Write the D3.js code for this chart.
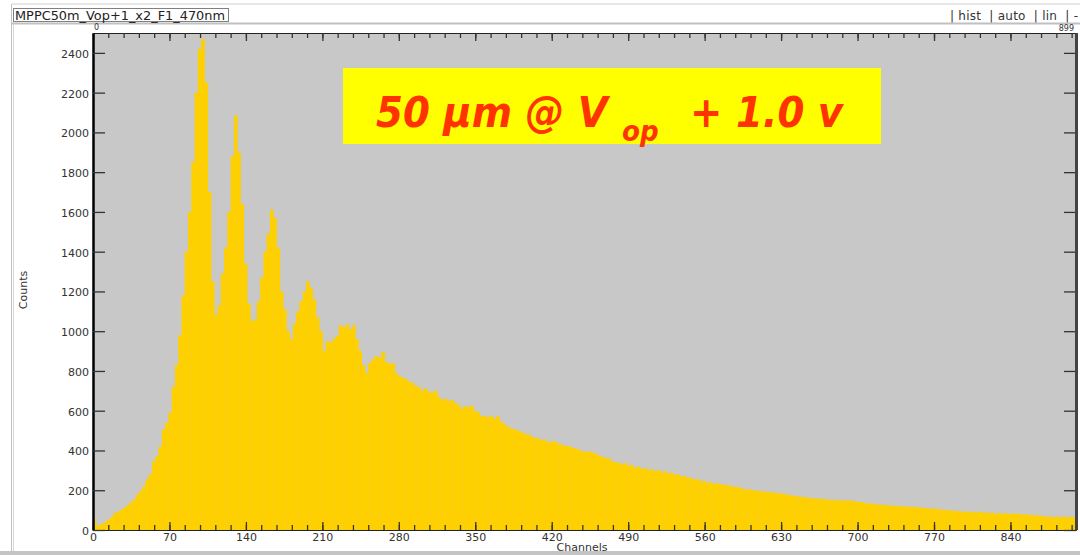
<!DOCTYPE html>
<html>
<head>
<meta charset="utf-8">
<script src="https://cdn.jsdelivr.net/npm/d3@7"></script>
<style>
  body { margin:0; background:#fff; }
  svg { display:block; }
  .axis text { font-family:"DejaVu Sans", sans-serif; font-size:11px; fill:#333; }
</style>
</head>
<body>
<div id="histogram"></div>
<script>
// histogram title + spectrum (3-channel bins, channels 0..899)
let title = "MPPC50m_Vop+1_x2_F1_470nm";
let binWidth = 3;
let counts = [
  45, 20, 28, 36, 50, 62, 82, 90, 100, 112,
  122, 140, 150, 178, 195, 220, 255, 282, 345, 372,
  420, 505, 540, 590, 720, 830, 980, 1180, 1400, 1600,
  1850, 2200, 2420, 2470, 2250, 1700, 1250, 1080, 1130, 1290,
  1420, 1600, 1880, 2085, 1900, 1640, 1340, 1140, 1050, 1060,
  1150, 1270, 1400, 1490, 1610, 1570, 1420, 1200, 1110, 1000,
  960, 1040, 1100, 1150, 1200, 1250, 1220, 1160, 1070, 1000,
  900, 950, 945, 960, 975, 1030, 1020, 1035, 1010, 1030,
  960, 900, 830, 790, 840, 860, 875, 865, 895, 845,
  835, 840, 790, 775, 765, 760, 745, 740, 725, 718,
  700, 712, 695, 690, 700, 670, 655, 660, 648, 655,
  640, 628, 610, 622, 618, 625, 600, 592, 575, 572,
  568, 575, 560, 572, 545, 535, 520, 512, 508, 500,
  495, 486, 480, 476, 462, 465, 452, 455, 446, 442,
  446, 440, 430, 428, 420, 422, 412, 410, 400, 396,
  392, 395, 388, 384, 372, 368, 362, 360, 345, 340,
  338, 330, 336, 322, 326, 314, 318, 308, 312, 300,
  306, 296, 302, 290, 296, 284, 288, 278, 280, 270,
  272, 262, 264, 252, 256, 244, 248, 236, 240, 232,
  235, 228, 230, 222, 224, 216, 218, 210, 208, 202,
  204, 198, 200, 194, 196, 190, 192, 186, 188, 182,
  184, 178, 176, 172, 172, 166, 168, 162, 164, 158,
  160, 156, 158, 152, 154, 149, 152, 147, 151, 146,
  150, 145, 146, 140, 141, 135, 136, 131, 132, 128,
  128, 124, 126, 121, 123, 119, 122, 117, 119, 115,
  117, 113, 115, 110, 111, 106, 109, 104, 105, 100,
  101, 97, 99, 94, 95, 90, 93, 89, 92, 88,
  92, 87, 89, 84, 87, 82, 85, 81, 85, 80,
  84, 80, 82, 77, 79, 75, 77, 72, 74, 70,
  70, 66, 68, 64, 67, 63, 68, 63, 66, 62
];
let xMajorTicks = [0, 70, 140, 210, 280, 350, 420, 490, 560, 630, 700, 770, 840];
let yTicks = [0, 200, 400, 600, 800, 1000, 1200, 1400, 1600, 1800, 2000, 2200, 2400];
let menuText = "| hist  | auto  | lin  | -";
let xLabel = "Channels";
let yLabel = "Counts";

let screen_h = {width:1080, height:555};
let plot = {left:93, right:1076, top:33, bottom:530};

let svg = d3.select("#histogram")
    .append("svg")
    .attr("width", screen_h.width)
    .attr("height", screen_h.height);

// window frame bits
svg.append("line").attr("x1",12).attr("x2",1080).attr("y1",4).attr("y2",4).attr("stroke","#d0d0d0");
svg.append("line").attr("x1",12).attr("x2",1080).attr("y1",23.5).attr("y2",23.5).attr("stroke","#c0c0c0").attr("stroke-width",2);
svg.append("line").attr("x1",11.5).attr("x2",11.5).attr("y1",4).attr("y2",552).attr("stroke","#c0c0c0");
svg.append("line").attr("x1",13.5).attr("x2",13.5).attr("y1",24).attr("y2",552).attr("stroke","#d8d8d8");
svg.append("rect").attr("x",0).attr("y",551).attr("width",1080).attr("height",4).attr("fill","#c4c4c4");

svg.append("rect").attr("x",13.5).attr("y",8.5).attr("width",215).attr("height",13)
    .attr("fill","#fff").attr("stroke","#808080");
svg.append("text").attr("x",15).attr("y",19.5)
    .attr("font-family","DejaVu Sans").attr("font-size",11.5).attr("fill","#222")
    .attr("textLength",210).attr("lengthAdjust","spacingAndGlyphs")
    .text(title);
svg.append("text").attr("x",950).attr("y",19.5)
    .attr("font-family","DejaVu Sans").attr("font-size",12).attr("fill","#333")
    .attr("xml:space","preserve")
    .attr("textLength",128).attr("lengthAdjust","spacing")
    .text(menuText);

let xScale = d3.scaleLinear().domain([0, 900]).range([plot.left, plot.right]);
let yScale = d3.scaleLinear().domain([0, 2500]).range([plot.bottom, plot.top]);

svg.append("rect")
    .attr("x", plot.left).attr("y", plot.top)
    .attr("width", plot.right-plot.left).attr("height", plot.bottom-plot.top)
    .attr("fill", "#c8c8c8");

svg.append("g").selectAll("rect")
    .data(counts)
    .enter()
    .append("rect")
    .attr("x", function(d,i){ return xScale(i*binWidth); })
    .attr("y", function(d){ return yScale(d); })
    .attr("width", function(d,i){ return xScale((i+1)*binWidth)-xScale(i*binWidth)+0.4; })
    .attr("height", function(d){ return plot.bottom-yScale(d); })
    .attr("fill", "#ffd000");

let minorTicks = d3.range(0, 900, 14);

// bottom axis
let xAxis = svg.append("g").attr("class","axis")
    .attr("transform","translate(0,"+plot.bottom+")")
    .call(d3.axisBottom(xScale).tickValues(xMajorTicks).tickFormat(d3.format("d"))
        .tickSizeInner(-8).tickSizeOuter(0).tickPadding(4));
svg.append("g").attr("class","axis")
    .attr("transform","translate(0,"+plot.bottom+")")
    .call(d3.axisBottom(xScale).tickValues(minorTicks).tickSizeInner(-5).tickSizeOuter(0).tickFormat(""));
// top axis
svg.append("g").attr("class","axis")
    .attr("transform","translate(0,"+plot.top+")")
    .call(d3.axisTop(xScale).tickValues(xMajorTicks).tickSizeInner(-8).tickSizeOuter(0).tickFormat(""));
svg.append("g").attr("class","axis")
    .attr("transform","translate(0,"+plot.top+")")
    .call(d3.axisTop(xScale).tickValues(minorTicks).tickSizeInner(-5).tickSizeOuter(0).tickFormat(""));
// left + right axes
let yAxis = svg.append("g").attr("class","axis")
    .attr("transform","translate("+plot.left+",0)")
    .call(d3.axisLeft(yScale).tickValues(yTicks).tickFormat(d3.format("d"))
        .tickSizeInner(-12).tickSizeOuter(0).tickPadding(4));
svg.append("g").attr("class","axis")
    .attr("transform","translate("+plot.right+",0)")
    .call(d3.axisRight(yScale).tickValues(yTicks).tickSizeInner(-12).tickSizeOuter(0).tickFormat(""));

svg.selectAll(".axis .tick line").attr("stroke","#333").attr("stroke-width",1.3);
svg.selectAll(".axis .domain").attr("stroke","#222");
yAxis.select(".domain").attr("stroke-width",2.5).attr("stroke","#000");
xAxis.selectAll(".tick text").attr("dy","0.6em");
yAxis.selectAll(".tick text").attr("dy","0.4em");
svg.append("line").attr("x1",plot.right+0.5).attr("x2",plot.right+0.5)
    .attr("y1",plot.top).attr("y2",plot.bottom).attr("stroke","#444").attr("stroke-width",3);

svg.append("text").attr("x",plot.left+1).attr("y",30)
    .attr("font-family","DejaVu Sans").attr("font-size",8).attr("fill","#333").text("0");
svg.append("text").attr("x",plot.right-2).attr("y",31).attr("text-anchor","end")
    .attr("font-family","DejaVu Sans").attr("font-size",8).attr("fill","#333").text("899");

svg.append("text").attr("x",582).attr("y",551).attr("text-anchor","middle")
    .attr("font-family","DejaVu Sans").attr("font-size",11).attr("fill","#333").text(xLabel);
svg.append("text").attr("transform","translate(27,290) rotate(-90)").attr("text-anchor","middle")
    .attr("font-family","DejaVu Sans").attr("font-size",11).attr("fill","#333").text(yLabel);

// annotation box, one text with tspans for the subscript
svg.append("rect").attr("x",343).attr("y",68).attr("width",538).attr("height",76).attr("fill","#ffff00");
let ann = svg.append("text")
    .attr("font-family","'DejaVu Sans Condensed', 'DejaVu Sans', sans-serif")
    .attr("font-weight","bold").attr("font-style","italic").attr("fill","#ff3300")
    .attr("font-size",43);
ann.append("tspan").attr("x",376).attr("y",127).text("50 µm @ V");
ann.append("tspan").attr("x",622).attr("y",141).attr("font-size",29).text("op");
ann.append("tspan").attr("x",690).attr("y",127).text("+ 1.0 v");
</script>
</body>
</html>
